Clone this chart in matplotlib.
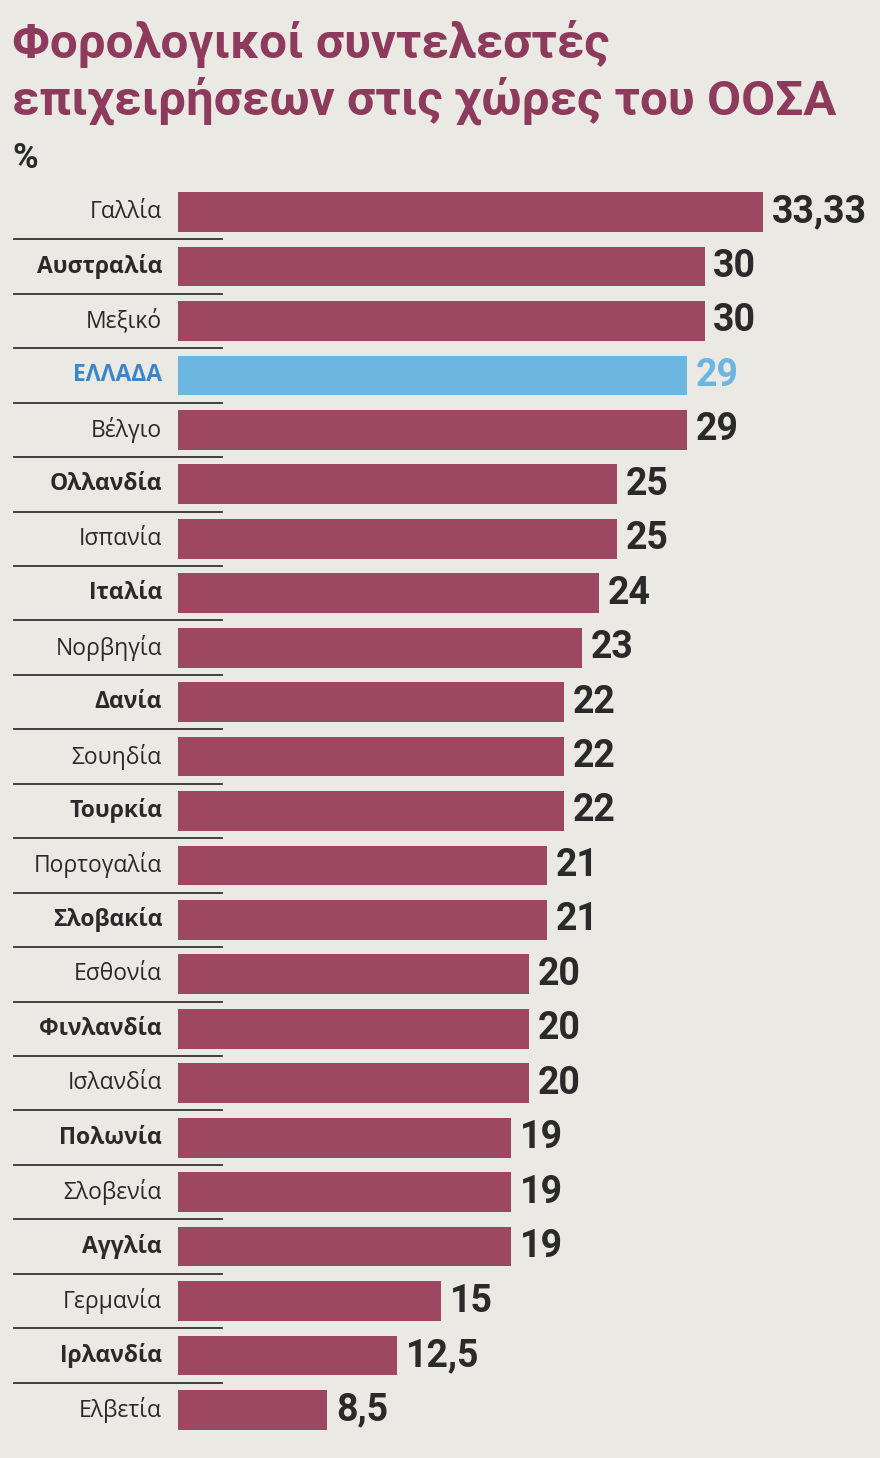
import matplotlib
matplotlib.use("Agg")
import matplotlib.pyplot as plt
from matplotlib.transforms import blended_transform_factory

# data, top to bottom as printed
countries = ["Γαλλία", "Αυστραλία", "Μεξικό", "ΕΛΛΑΔΑ", "Βέλγιο", "Ολλανδία",
             "Ισπανία", "Ιταλία", "Νορβηγία", "Δανία", "Σουηδία", "Τουρκία",
             "Πορτογαλία", "Σλοβακία", "Εσθονία", "Φινλανδία", "Ισλανδία",
             "Πολωνία", "Σλοβενία", "Αγγλία", "Γερμανία", "Ιρλανδία", "Ελβετία"]
rates = [33.33, 30, 30, 29, 29, 25, 25, 24, 23, 22, 22, 22,
         21, 21, 20, 20, 20, 19, 19, 19, 15, 12.5, 8.5]
rate_labels = ["33,33", "30", "30", "29", "29", "25", "25", "24", "23", "22", "22", "22",
               "21", "21", "20", "20", "20", "19", "19", "19", "15", "12,5", "8,5"]
bold_label = [False, True, False, True, False, True, False, True, False, True, False, True,
              False, True, False, True, False, True, False, True, False, True, False]
highlight = "ΕΛΛΑΔΑ"

title = "Φορολογικοί συντελεστές\nεπιχειρήσεων στις χώρες του ΟΟΣΑ"

W, H = 880, 1458
bg = "#ebe9e4"
bar_col = "#9e4762"
blue = "#6cb6e2"
maroon_title = "#8e3a5c"
dark = "#2b2a2a"

heavy = ["Roboto", "DejaVu Sans"]
plain = ["Open Sans", "DejaVu Sans"]

fig = plt.figure(figsize=(W / 100, H / 100), dpi=100, facecolor=bg)

def fx(px):
    return px / W

def fy(py):
    return 1 - py / H

# axes: row 0 centred at y=212px, row pitch ~54.45px
top_px, bot_px = 184.8, 1437.2
ax = fig.add_axes([fx(178), fy(bot_px), 1 - fx(178), (bot_px - top_px) / H])
ax.set_facecolor("none")
ax.set_xlim(0, 40)
ax.set_ylim(len(countries) - 0.5, -0.5)
ax.axis("off")

ypos = list(range(len(countries)))
colors = [blue if c == highlight else bar_col for c in countries]
ax.barh(ypos, rates, height=0.73, color=colors, edgecolor="none")

for y, v, lab in zip(ypos, rates, rate_labels):
    col = blue if countries[y] == highlight else dark
    ax.text(v + 0.5, y, lab, ha="left", va="center", fontsize=27,
            fontweight="bold", color=col, family=heavy)

trans = blended_transform_factory(fig.transFigure, ax.transData)
for y, name, b in zip(ypos, countries, bold_label):
    col = "#3a86c8" if name == highlight else dark
    ax.text(fx(162), y, name, transform=trans, ha="right", va="center",
            fontsize=16.5, fontweight="bold" if b else "normal", color=col,
            family=plain)
    if y < len(countries) - 1:
        ax.plot([fx(14), fx(222)], [y + 0.5, y + 0.5], transform=trans,
                color="#333333", lw=1.3, clip_on=False)

fig.text(fx(12), fy(20), title, ha="left", va="top", fontsize=35.5,
         fontweight="bold", color=maroon_title, family=heavy, linespacing=1.22)
fig.text(fx(12), fy(158), "%", ha="left", va="center", fontsize=25,
         fontweight="bold", color=dark, family=heavy)

fig.savefig("out.png", dpi=100, facecolor=bg)
